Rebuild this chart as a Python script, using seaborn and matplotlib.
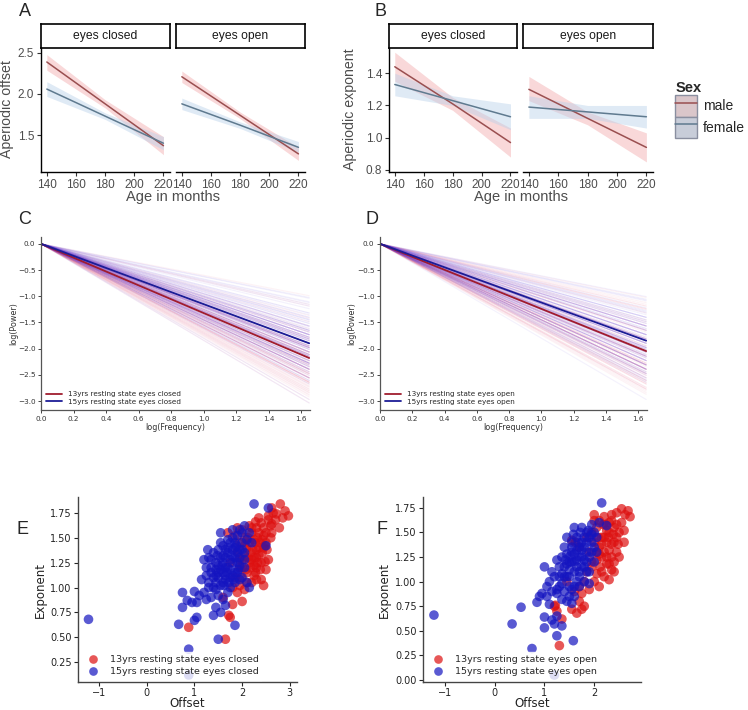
import numpy as np
import pandas as pd
import matplotlib
matplotlib.use("Agg")
import matplotlib.pyplot as plt
from matplotlib.patches import Patch
from matplotlib.lines import Line2D
import seaborn as sns

sns.set_theme(style="white")
plt.rcParams['font.family'] = ['DejaVu Sans']

# -------------------------------
# Data: panels A / B (model fits at ages 140, 180, 220 months)
# -------------------------------
ages = [140, 180, 220]
conditions = ["eyes closed", "eyes open"]

offset_fit = {
    ("eyes closed", "male"): [2.39, 1.88, 1.37],
    ("eyes closed", "female"): [2.06, 1.73, 1.40],
    ("eyes open", "male"): [2.21, 1.74, 1.27],
    ("eyes open", "female"): [1.88, 1.62, 1.35],
}
offset_lo = {
    ("eyes closed", "male"): [2.29, 1.83, 1.26],
    ("eyes closed", "female"): [1.97, 1.69, 1.32],
    ("eyes open", "male"): [2.14, 1.70, 1.19],
    ("eyes open", "female"): [1.81, 1.58, 1.29],
}
offset_hi = {
    ("eyes closed", "male"): [2.48, 1.93, 1.48],
    ("eyes closed", "female"): [2.15, 1.77, 1.48],
    ("eyes open", "male"): [2.28, 1.78, 1.35],
    ("eyes open", "female"): [1.95, 1.66, 1.42],
}
exponent_fit = {
    ("eyes closed", "male"): [1.44, 1.21, 0.97],
    ("eyes closed", "female"): [1.33, 1.23, 1.13],
    ("eyes open", "male"): [1.30, 1.12, 0.94],
    ("eyes open", "female"): [1.19, 1.16, 1.13],
}
exponent_lo = {
    ("eyes closed", "male"): [1.35, 1.17, 0.88],
    ("eyes closed", "female"): [1.26, 1.20, 1.05],
    ("eyes open", "male"): [1.23, 1.08, 0.85],
    ("eyes open", "female"): [1.12, 1.12, 1.06],
}
exponent_hi = {
    ("eyes closed", "male"): [1.53, 1.25, 1.06],
    ("eyes closed", "female"): [1.40, 1.26, 1.21],
    ("eyes open", "male"): [1.38, 1.16, 1.03],
    ("eyes open", "female"): [1.26, 1.20, 1.20],
}

# -------------------------------
# Data: panels E / F (offset, exponent per participant)
# -------------------------------
closed13_offset = [2.80, 2.62, 2.90, 2.97, 2.72, 2.55, 2.35, 2.62, 2.78, 2.45, 2.28, 2.15, 2.50, 2.35,
                   2.20, 2.60, 2.42, 2.28, 2.12, 2.05, 2.30, 2.45, 2.55, 2.40, 2.25, 2.18, 2.30, 2.25,
                   2.40, 2.15, 2.05, 1.95, 2.10, 2.20, 2.05, 1.95, 1.90, 2.00, 1.80, 1.75, 1.72, 1.65,
                   0.88, 1.70, 1.90, 1.85, 2.00, 2.30, 2.35, 2.48, 2.52, 2.20, 2.10, 2.38, 2.25, 1.85,
                   1.80, 1.60, 2.45, 2.60, 2.70, 1.75, 2.00, 2.15, 2.32, 2.48, 1.90, 2.08, 2.22, 2.38,
                   1.95, 2.05, 1.98, 2.30, 2.25, 2.35, 2.42, 2.18, 2.28, 2.12, 2.50, 2.62, 2.32, 2.45,
                   2.20, 2.40, 2.55, 2.10, 2.00, 1.95, 2.65, 2.85, 2.30, 2.50]
closed13_exponent = [1.84, 1.80, 1.77, 1.72, 1.74, 1.72, 1.70, 1.64, 1.60, 1.60, 1.66, 1.62, 1.55, 1.55,
                     1.55, 1.50, 1.48, 1.45, 1.50, 1.42, 1.38, 1.40, 1.28, 1.25, 1.30, 1.35, 1.20, 1.12,
                     1.08, 1.25, 1.32, 1.20, 1.15, 1.05, 0.98, 1.02, 0.95, 0.86, 0.83, 0.70, 0.72, 0.48,
                     0.60, 1.55, 1.60, 1.52, 1.58, 1.30, 1.33, 1.42, 1.38, 1.28, 1.40, 1.18, 1.22, 1.10,
                     1.00, 0.90, 1.02, 1.62, 1.68, 1.25, 1.28, 1.45, 1.50, 1.26, 1.36, 1.18, 1.38, 1.45,
                     1.45, 1.50, 1.10, 1.60, 1.48, 1.40, 1.35, 1.20, 1.15, 1.30, 1.45, 1.55, 1.25, 1.52,
                     1.60, 1.65, 1.68, 1.05, 1.20, 1.28, 1.75, 1.70, 1.08, 1.18]

closed15_offset = [-1.22, 0.67, 0.88, 0.88, 1.50, 1.00, 1.05, 1.85, 0.75, 0.85, 0.75, 0.95, 1.40, 1.55,
                   1.45, 1.00, 1.10, 1.20, 1.05, 1.25, 1.35, 1.50, 1.45, 1.30, 1.60, 1.70, 1.65, 1.25,
                   1.30, 1.35, 1.40, 1.45, 1.50, 1.55, 1.60, 1.65, 1.70, 1.75, 1.80, 1.85, 1.90, 1.95,
                   2.00, 2.05, 1.40, 1.50, 1.60, 1.70, 1.80, 1.90, 2.00, 2.10, 1.55, 1.65, 1.75, 1.85,
                   1.95, 1.20, 1.30, 1.45, 1.60, 1.75, 1.85, 1.95, 1.35, 1.50, 1.65, 1.80, 1.90, 2.05,
                   1.70, 1.60, 1.45, 1.25, 1.15, 2.10, 2.15, 2.25, 2.55, 2.50, 2.05, 1.95, 2.15, 2.20,
                   1.55, 1.80, 1.50, 1.55, 1.60, 1.65, 1.70, 1.75, 1.80, 1.85, 1.90, 1.95, 2.00, 1.40,
                   1.45, 1.55, 1.65, 1.75, 1.85, 2.00, 2.05, 1.62, 1.72, 1.82, 1.92, 1.35, 1.28, 1.48,
                   1.58, 1.68, 1.78, 1.88]
closed15_exponent = [0.68, 0.63, 0.38, 0.12, 0.48, 0.67, 0.70, 0.62, 0.80, 0.87, 0.95, 0.85, 0.72, 0.75,
                     0.80, 0.96, 0.92, 0.95, 0.85, 0.88, 0.90, 0.92, 0.98, 1.00, 0.88, 0.95, 0.82, 1.12,
                     1.05, 1.20, 1.10, 1.25, 1.15, 1.30, 1.05, 1.20, 1.35, 1.10, 1.25, 1.40, 1.15, 1.30,
                     1.45, 1.20, 1.35, 1.38, 1.42, 1.48, 1.50, 1.52, 1.55, 1.48, 1.02, 1.08, 1.00, 1.05,
                     1.08, 1.28, 1.30, 1.05, 1.25, 1.18, 1.30, 1.38, 1.15, 1.22, 1.30, 1.12, 1.25, 1.35,
                     1.40, 1.15, 1.18, 1.20, 1.08, 1.05, 1.00, 1.84, 1.80, 1.42, 1.62, 1.58, 1.55, 1.45,
                     1.55, 1.58, 1.10, 1.18, 1.32, 1.12, 1.20, 1.28, 1.38, 1.15, 1.35, 1.22, 1.10, 1.00,
                     1.12, 1.45, 1.38, 1.45, 1.45, 1.38, 1.28, 1.02, 1.05, 1.08, 1.18, 1.28, 1.38, 1.32,
                     1.22, 1.15, 1.32, 1.42]

open13_offset = [2.55, 2.68, 2.72, 2.45, 2.35, 2.20, 2.10, 2.30, 2.45, 2.50, 2.38, 2.25, 2.15, 2.05,
                 1.95, 2.40, 2.60, 2.30, 2.45, 2.35, 2.20, 2.10, 2.25, 2.35, 2.40, 2.15, 2.05, 2.30,
                 2.00, 2.10, 1.90, 1.80, 1.75, 1.70, 1.75, 1.65, 1.55, 1.35, 1.30, 1.20, 1.25, 1.22,
                 1.62, 1.55, 1.70, 1.85, 2.00, 2.15, 1.95, 2.25, 2.40, 2.55, 1.90, 2.05, 2.12, 2.20,
                 1.85, 2.48, 2.28, 1.60, 1.45, 2.00, 2.18, 2.30, 2.20, 2.35, 2.45, 2.10, 2.25, 2.15,
                 2.05, 2.30, 2.40, 2.50, 2.62, 2.35, 2.22, 1.95, 2.08, 1.80, 1.70, 2.00, 2.60]
open13_exponent = [1.74, 1.72, 1.66, 1.70, 1.68, 1.66, 1.62, 1.60, 1.58, 1.50, 1.48, 1.52, 1.45, 1.55,
                   1.50, 1.40, 1.40, 1.32, 1.30, 1.25, 1.30, 1.35, 1.18, 1.12, 1.20, 1.10, 1.08, 1.02,
                   1.00, 0.95, 0.92, 1.00, 0.88, 0.80, 0.72, 0.68, 0.72, 0.62, 0.35, 0.75, 0.70, 0.76,
                   1.40, 1.42, 1.35, 1.45, 1.40, 1.25, 1.20, 1.40, 1.55, 1.60, 1.30, 1.22, 1.15, 1.05,
                   1.10, 1.38, 1.45, 0.90, 1.00, 1.62, 1.58, 1.50, 1.45, 1.38, 1.45, 1.28, 1.25, 1.38,
                   1.30, 1.18, 1.10, 1.25, 1.68, 1.62, 1.58, 1.15, 1.45, 0.75, 0.95, 1.68, 1.52]

open15_offset = [-1.22, 0.35, 0.53, 0.75, 1.20, 0.85, 1.00, 1.00, 1.10, 1.15, 1.20, 1.25, 1.35, 1.58,
                 1.25, 0.90, 0.95, 1.05, 1.15, 1.25, 1.10, 1.00, 1.05, 1.20, 1.30, 1.40, 1.45, 1.55,
                 1.60, 1.50, 1.30, 1.35, 1.40, 1.45, 1.50, 1.55, 1.60, 1.65, 1.70, 1.75, 1.80, 1.85,
                 1.90, 1.95, 2.00, 1.45, 1.55, 1.65, 1.75, 1.85, 1.95, 1.40, 1.50, 1.60, 1.70, 1.80,
                 1.90, 1.65, 1.75, 1.85, 1.95, 2.05, 2.10, 2.15, 2.25, 1.35, 1.25, 1.55, 1.70, 1.45,
                 1.60, 1.80, 1.90, 2.00, 2.05, 1.35, 1.15, 1.50, 1.55, 1.60, 1.65, 1.70, 1.75, 1.80,
                 1.85, 1.90, 1.95, 2.00, 1.40, 1.45, 1.55, 1.65, 1.75, 1.85, 1.60, 1.70, 1.80, 1.30,
                 1.35, 1.25, 1.50, 1.58, 1.72, 1.68, 1.52, 1.42, 1.88]
open15_exponent = [0.66, 0.57, 0.74, 0.32, 0.05, 0.79, 0.64, 0.53, 0.77, 0.61, 0.57, 0.45, 0.55, 0.40,
                   0.65, 0.85, 0.88, 0.85, 0.90, 0.88, 1.00, 1.15, 0.95, 1.05, 0.95, 0.90, 0.80, 0.78,
                   0.85, 0.95, 1.15, 1.25, 1.35, 1.05, 1.20, 1.30, 1.10, 1.00, 1.25, 1.15, 1.35, 1.20,
                   1.45, 1.30, 1.50, 1.45, 1.40, 1.45, 1.55, 1.50, 1.40, 1.15, 1.05, 1.20, 1.05, 1.00,
                   1.10, 1.32, 1.40, 1.30, 1.58, 1.45, 1.60, 1.80, 1.57, 1.08, 1.22, 0.92, 0.95, 1.28,
                   1.55, 1.22, 0.98, 1.20, 1.30, 0.82, 1.10, 1.12, 1.20, 1.28, 1.15, 1.35, 1.25, 1.45,
                   1.10, 1.25, 1.48, 1.35, 1.05, 1.18, 1.35, 1.22, 1.32, 1.40, 0.95, 1.10, 1.15, 1.05,
                   0.98, 0.92, 0.85, 1.48, 1.50, 1.40, 1.26, 1.22, 1.52]

# group mean aperiodic exponents (thick lines in C / D)
mean_exp_closed = {"13yrs": 1.32, "15yrs": 1.15}
mean_exp_open = {"13yrs": 1.24, "15yrs": 1.12}
freq_span = [0.0, 1.65]
min_fit_exponent = 0.6   # thin single-subject lines only drawn for usable fits

# -------------------------------
# Layout helpers (pixel boxes on a 748x710 canvas)
# -------------------------------
W, H = 748, 710
fig = plt.figure(figsize=(W / 100, H / 100), dpi=100)


def box(x0, y0, x1, y1):
    return [x0 / W, 1 - y1 / H, (x1 - x0) / W, (y1 - y0) / H]


def ylabel_at(ax, x0, x1, px):
    # place the y label centre at a given canvas pixel column
    ax.yaxis.set_label_coords((px - x0) / (x1 - x0), 0.5)


male_line, male_band = "#9a4f50", "#f2a9ab"
female_line, female_band = "#5f7a8f", "#b9d1ea"
gg_text = "#4d4d4d"
arial = ['Liberation Sans', 'DejaVu Sans']


def facet_panel(fits, lo, hi, xspans, ylim, yticks, ylabel, label_px, letter, letter_x):
    axes = []
    for i, cond in enumerate(conditions):
        x0, x1 = xspans[i]
        ax = fig.add_axes(box(x0, 47, x1, 172))
        rows = []
        for sex in ["male", "female"]:
            for a, v in zip(ages, fits[(cond, sex)]):
                rows.append({"age": a, "value": v, "Sex": sex})
            band = male_band if sex == "male" else female_band
            ax.fill_between(ages, lo[(cond, sex)], hi[(cond, sex)], color=band, alpha=0.45, lw=0)
        df = pd.DataFrame(rows)
        sns.lineplot(data=df, x="age", y="value", hue="Sex",
                     palette={"male": male_line, "female": female_line},
                     lw=1.1, legend=False, ax=ax)
        ax.set_xlim(136, 224.5)
        ax.set_ylim(*ylim)
        ax.set_xticks([140, 160, 180, 200, 220])
        ax.set_yticks(yticks)
        ax.set_xlabel("")
        ax.set_ylabel("")
        for side in ["top", "right"]:
            ax.spines[side].set_visible(False)
        ax.spines["bottom"].set_color("black")
        ax.spines["left"].set_color("black")
        ax.spines["bottom"].set_linewidth(1.0)
        ax.spines["left"].set_linewidth(1.0)
        ax.tick_params(axis="both", length=3, width=0.8, color="#333333", labelsize=8.5,
                       labelcolor=gg_text, pad=2, bottom=True, left=True)
        for lab in ax.get_xticklabels() + ax.get_yticklabels():
            lab.set_family(arial)
        if i == 0:
            ax.set_ylabel(ylabel, fontsize=10.2, color=gg_text, family=arial)
            ylabel_at(ax, x0, x1, label_px)
        else:
            ax.spines["left"].set_visible(False)
            ax.tick_params(axis="y", left=False, labelleft=False)
        # facet strip
        sax = fig.add_axes(box(x0, 24, x1, 48))
        sax.set_xticks([])
        sax.set_yticks([])
        for sp in sax.spines.values():
            sp.set_visible(True)
            sp.set_color("black")
            sp.set_linewidth(1.2)
        sax.text(0.5, 0.5, cond, ha="center", va="center", fontsize=8.7,
                 color="#1a1a1a", family=arial, transform=sax.transAxes)
        axes.append(ax)
    mid = (xspans[0][0] + xspans[1][1]) / 2
    fig.text(mid / W, 1 - 197 / H, "Age in months", ha="center", va="center",
             fontsize=10.5, color=gg_text, family=arial)
    fig.text(letter_x / W, 1 - 12 / H, letter, ha="center", va="center", fontsize=13, family=arial)
    return axes


# -------------------------------
# A / B
# -------------------------------
facet_panel(offset_fit, offset_lo, offset_hi, [(41, 170), (176, 305)],
            (1.049, 2.573), [1.5, 2.0, 2.5], "Aperiodic offset", 14, "A", 25)
facet_panel(exponent_fit, exponent_lo, exponent_hi, [(389, 517), (523, 653)],
            (0.7875, 1.5625), [0.8, 1.0, 1.2, 1.4], "Aperiodic exponent", 357, "B", 380)

handles = [
    (Patch(facecolor="#dac6ca", edgecolor="#8a8fa0", lw=1.0),
     Line2D([], [], color=male_line, lw=1.1)),
    (Patch(facecolor="#c8cdd9", edgecolor="#8a8fa0", lw=1.0),
     Line2D([], [], color=female_line, lw=1.1)),
]
leg = fig.legend(handles, ["male", "female"], title="Sex", loc="upper left",
                 bbox_to_anchor=(664 / W, 1 - 70 / H), frameon=False,
                 handlelength=1.55, handleheight=2.0, handletextpad=0.45, labelspacing=0.0,
                 borderpad=0.3,
                 prop={"family": arial, "size": 10},
                 title_fontproperties={"family": arial, "size": 10.5, "weight": "bold"})
leg._legend_box.align = "left"


# -------------------------------
# C / D
# -------------------------------
def slope_panel(x0, x1, exps13, exps15, means, cond_text, label_px, letter, letter_x):
    ax = fig.add_axes(box(x0, 237, x1, 410))
    rows = []
    for grp, exps in [("13yrs", exps13), ("15yrs", exps15)]:
        for k, e in enumerate(exps):
            if e < min_fit_exponent:
                continue
            for f in freq_span:
                rows.append({"freq": f, "power": -e * f, "subj": f"{grp}_{k}", "grp": grp})
    thin = pd.DataFrame(rows)
    sns.lineplot(data=thin, x="freq", y="power", hue="grp", units="subj", estimator=None,
                 palette={"13yrs": "#e8507a", "15yrs": "#6040e0"}, alpha=0.07, lw=0.8,
                 legend=False, ax=ax)
    mrows = []
    for grp, e in means.items():
        for f in freq_span:
            mrows.append({"freq": f, "power": -e * f,
                          "grp": f"{grp} resting state {cond_text}"})
    mdf = pd.DataFrame(mrows)
    sns.lineplot(data=mdf, x="freq", y="power", hue="grp",
                 palette=["#a01c2e", "#1c1c96"], lw=1.3, ax=ax)
    ax.set_xlim(0, 1.655)
    ax.set_ylim(-3.17, 0.13)
    ax.set_xticks(np.arange(0, 1.61, 0.2))
    ax.set_yticks(np.arange(-3.0, 0.01, 0.5))
    ax.set_xlabel("log(Frequency)", fontsize=5.8, labelpad=1, color="#333333")
    ax.set_ylabel("log(Power)", fontsize=5.8, color="#333333")
    ylabel_at(ax, x0, x1, label_px)
    for side in ["top", "right"]:
        ax.spines[side].set_visible(False)
    for side in ["left", "bottom"]:
        ax.spines[side].set_color("#555555")
        ax.spines[side].set_linewidth(0.9)
    ax.tick_params(axis="both", labelsize=5.2, length=2, width=0.6, pad=2,
                   bottom=True, left=True, labelcolor="#333333")
    ax.legend(loc="lower left", frameon=False, fontsize=5.2, handlelength=2.2,
              borderaxespad=0.3, labelspacing=0.25)
    fig.text(letter_x / W, 1 - 220 / H, letter, ha="center", va="center", fontsize=13, family=arial)
    return ax


slope_panel(41, 310, closed13_exponent, closed15_exponent, mean_exp_closed,
            "eyes closed", 18, "C", 25)
slope_panel(380, 647, open13_exponent, open15_exponent, mean_exp_open,
            "eyes open", 356, "D", 372)


# -------------------------------
# E / F
# -------------------------------
def scatter_panel(x0, x1, off13, exp13, off15, exp15, cond_text, xlim, ylim,
                  xticks, yticks, label_px, letter, letter_x):
    ax = fig.add_axes(box(x0, 497, x1, 682))
    lab13 = f"13yrs resting state {cond_text}"
    lab15 = f"15yrs resting state {cond_text}"
    df = pd.concat([
        pd.DataFrame({"Offset": off13, "Exponent": exp13, "grp": lab13}),
        pd.DataFrame({"Offset": off15, "Exponent": exp15, "grp": lab15}),
    ])
    sns.scatterplot(data=df, x="Offset", y="Exponent", hue="grp",
                    palette={lab13: "#dd1010", lab15: "#1414c0"},
                    s=48, alpha=0.7, linewidth=0, ax=ax)
    ax.set_xlim(*xlim)
    ax.set_ylim(*ylim)
    ax.set_xticks(xticks)
    ax.set_yticks(yticks)
    ax.set_xlabel("Offset", fontsize=8.5, labelpad=-1, color="#222222")
    ax.set_ylabel("Exponent", fontsize=8.5, color="#222222")
    ylabel_at(ax, x0, x1, label_px)
    for side in ["top", "right"]:
        ax.spines[side].set_visible(False)
    for side in ["left", "bottom"]:
        ax.spines[side].set_color("#444444")
        ax.spines[side].set_linewidth(1.0)
    ax.tick_params(axis="both", labelsize=7, length=3, width=0.8, pad=1.5,
                   bottom=True, left=True, labelcolor="#222222")
    ax.legend(loc="lower left", fontsize=6.8, frameon=True, facecolor="white",
              edgecolor="white", framealpha=0.8, handletextpad=0.8,
              borderaxespad=0.2, labelspacing=0.3, markerscale=0.9)
    fig.text(letter_x / W, 1 - 530 / H, letter, ha="center", va="center", fontsize=13, family=arial)
    return ax


scatter_panel(78, 297, closed13_offset, closed13_exponent, closed15_offset, closed15_exponent,
              "eyes closed", (-1.44, 3.15), (0.05, 1.91), [-1, 0, 1, 2, 3],
              [0.25, 0.5, 0.75, 1.0, 1.25, 1.5, 1.75], 47, "E", 22)
scatter_panel(423, 641, open13_offset, open13_exponent, open15_offset, open15_exponent,
              "eyes open", (-1.44, 2.94), (-0.02, 1.86), [-1, 0, 1, 2],
              [0.0, 0.25, 0.5, 0.75, 1.0, 1.25, 1.5, 1.75], 391, "F", 382)

fig.savefig("out.png", dpi=100)
